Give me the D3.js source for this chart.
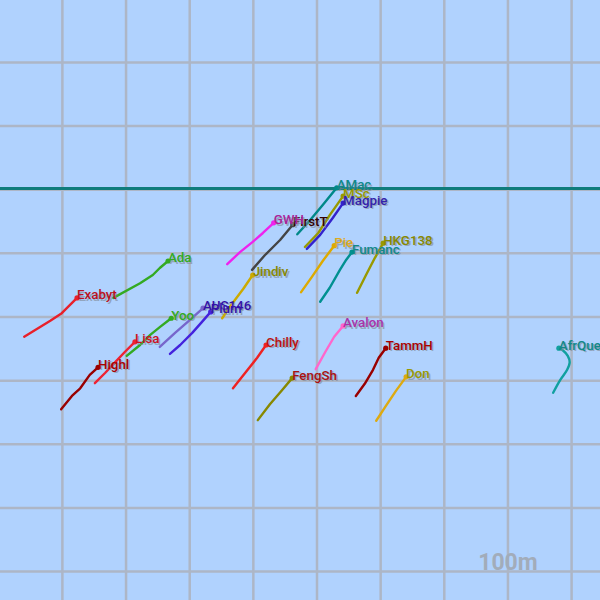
<!DOCTYPE html>
<html>
<head>
<meta charset="utf-8">
<script src="https://cdn.jsdelivr.net/npm/d3@7"></script>
<style>
html,body{margin:0;padding:0;background:#b0d2fe;}
svg{display:block;}
</style>
</head>
<body>
<svg id="chart" width="600" height="600"></svg>
<script>
// Boat names (draw order)
const names = ["Exabyt","Ada","Yoo","Lisa","Highl","AUS146","Plum","Jindiv","FirstT","GWH","AMac","MSc","Magpie","Pie","Fumanc","HKG138","Avalon","Chilly","FengSh","TammH","Don","AfrQueen"];
// Track colours
const trackColors = ["#e8202a","#33aa22","#33aa22","#ee2233","#990000","#7766cc","#4422dd","#ccaa00","#444444","#ee22ee","#008888","#999900","#3322cc","#ddaa00","#009090","#999900","#ff66cc","#ee2222","#888800","#990000","#ddaa11","#11a0a0"];
// Label colours
const labelColors = ["#bb1122","#33aa22","#33aa22","#cc1122","#aa0000","#3311aa","#3311aa","#888800","#330000","#aa2299","#118888","#999900","#3322aa","#ddaa22","#118888","#888800","#aa33aa","#bb1111","#aa1111","#aa0000","#999900","#118888"];
// Tracks: [easting m, northing m], tail -> head
const tracks = [
  [[-60,369],[-19,394],[-1,406],[23,430]],
  [[80,430],[122,453],[142,466],[153,477],[166,488]],
  [[101,339],[122,356],[138,372],[153,384],[171,398]],
  [[51,296],[67,312],[83,329],[98,345],[114,361]],
  [[-2,255],[15,276],[28,288],[43,309],[56,321]],
  [[153,353],[177,375],[200,395],[221,414]],
  [[169,342],[185,356],[204,375],[219,392],[233,408]],
  [[251,398],[266,420],[284,444],[299,466]],
  [[298,474],[318,497],[342,521],[362,545]],
  [[259,483],[279,502],[299,518],[315,532],[332,548]],
  [[369,530],[389,552],[409,576],[431,603]],
  [[381,510],[402,532],[420,560],[441,590]],
  [[384,507],[405,529],[425,556],[441,579]],
  [[375,439],[392,463],[409,488],[427,512]],
  [[405,424],[420,446],[436,474],[446,490],[455,502]],
  [[463,438],[477,466],[491,493],[504,516]],
  [[398,318],[413,345],[427,369],[441,386]],
  [[268,288],[287,312],[306,336],[320,356]],
  [[307,238],[326,263],[345,285],[361,304]],
  [[461,276],[475,295],[488,317],[497,336],[508,351]],
  [[493,237],[508,260],[524,284],[540,306]],
  [[771,281],[782,301],[793,317],[797,329],[794,339],[787,347],[780,351]]
];
// Start line northing (m)
const startLine = [602];
// Grid ticks (m)
const gridTicks = [-100,0,100,200,300,400,500,600,700,800,900];
const scaleLabel = ["100m"];

const svg = d3.select("#chart");
const x = d3.scaleLinear().domain([0,800]).range([62.4,571.6]);
const y = d3.scaleLinear().domain([0,800]).range([571.6,62.4]);

svg.append("rect").attr("width",600).attr("height",600).attr("fill","#b0d2fe");

const grid = svg.append("g").attr("stroke","#adb6c6").attr("stroke-width",2.5);
grid.selectAll("line.v").data(gridTicks).join("line").attr("class","v")
  .attr("x1",d=>x(d)).attr("x2",d=>x(d)).attr("y1",0).attr("y2",600);
grid.selectAll("line.h").data(gridTicks).join("line").attr("class","h")
  .attr("y1",d=>y(d)).attr("y2",d=>y(d)).attr("x1",0).attr("x2",600);

svg.append("text").text(scaleLabel[0])
  .attr("x",x(700)).attr("y",570).attr("text-anchor","middle")
  .attr("font-family","Roboto, sans-serif").attr("font-weight","bold")
  .attr("font-size",23).attr("fill","#a2acba");

svg.selectAll("line.start").data(startLine).join("line").attr("class","start")
  .attr("x1",0).attr("x2",600).attr("y1",d=>y(d)).attr("y2",d=>y(d))
  .attr("stroke","#0f7c7c").attr("stroke-width",3);

const line = d3.line().x(d=>x(d[0])).y(d=>y(d[1])).curve(d3.curveMonotoneY);
const lineLin = d3.line().x(d=>x(d[0])).y(d=>y(d[1]));

const tg = svg.append("g");
tracks.forEach((t,i)=>{
  tg.append("path").attr("d",(i===tracks.length-1?d3.line().x(d=>x(d[0])).y(d=>y(d[1])).curve(d3.curveCatmullRom):lineLin)(t)).attr("fill","none")
    .attr("stroke",trackColors[i]).attr("stroke-width",2.4)
    .attr("stroke-linecap","round").attr("stroke-linejoin","round");
  const h = t[t.length-1];
  tg.append("circle").attr("cx",x(h[0])).attr("cy",y(h[1])).attr("r",2.6)
    .attr("fill",trackColors[i]);
});

const lg = svg.append("g").attr("font-family","Roboto, sans-serif")
  .attr("font-size",13.3).attr("font-weight",500);
tracks.forEach((t,i)=>{
  const h = t[t.length-1];
  const px = x(h[0]), py = y(h[1]) + 1.5;
  lg.append("text").text(names[i]).attr("x",px+1.5).attr("y",py+1.5)
    .attr("fill","#7f8894").attr("opacity",0.6);
  lg.append("text").text(names[i]).attr("x",px).attr("y",py)
    .attr("fill",labelColors[i]);
});
</script>
</body>
</html>
